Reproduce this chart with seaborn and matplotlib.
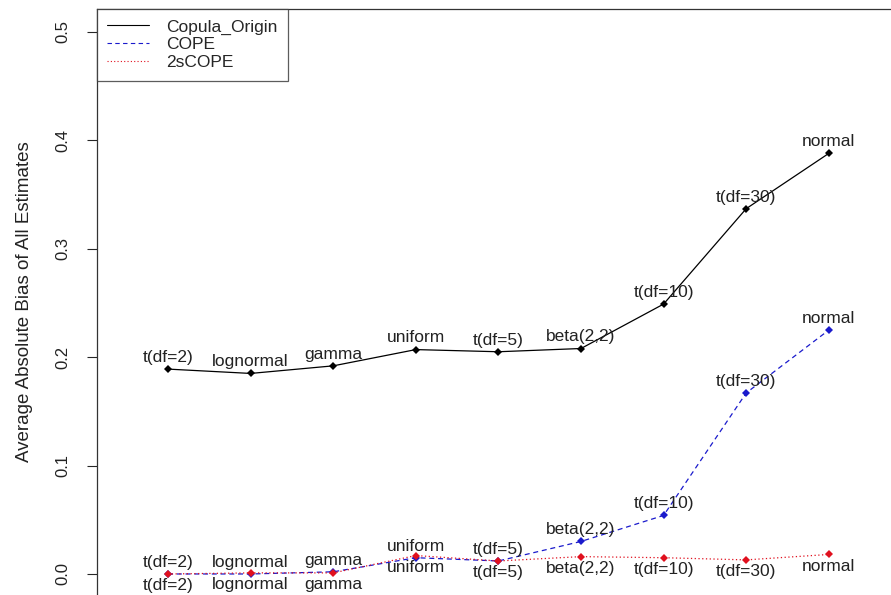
import numpy as np
import pandas as pd
import matplotlib
matplotlib.use('Agg')
import matplotlib.pyplot as plt
import seaborn as sns

# distributions (x order) and average absolute bias per method
dists = ['t(df=2)', 'lognormal', 'gamma', 'uniform', 't(df=5)',
         'beta(2,2)', 't(df=10)', 't(df=30)', 'normal']
copula_origin = [0.189, 0.185, 0.192, 0.207, 0.205, 0.208, 0.249, 0.337, 0.388]
cope = [0.000, 0.000, 0.002, 0.015, 0.012, 0.030, 0.054, 0.167, 0.225]
cope2s = [0.000, 0.001, 0.001, 0.017, 0.012, 0.016, 0.015, 0.013, 0.018]

sns.set_style('white')
plt.rcParams['font.family'] = ['Liberation Sans', 'DejaVu Sans']

W, H = 891, 595
fig = plt.figure(figsize=(W / 100, H / 100), dpi=100)
ax = fig.add_axes([97 / W, 0, (W - 97) / W, (595 - 9) / H])

xs = np.arange(1, len(dists) + 1)
df = pd.DataFrame({'x': np.tile(xs, 3),
                   'bias': copula_origin + cope + cope2s,
                   'method': ['Copula_Origin'] * 9 + ['COPE'] * 9 + ['2sCOPE'] * 9})

styles = {'Copula_Origin': ('black', '-'), 'COPE': ('#1a1acc', (0, (4, 3))),
          '2sCOPE': ('#e0101e', (0, (1, 2)))}
for m in ['Copula_Origin', 'COPE', '2sCOPE']:
    c, ls = styles[m]
    sub = df[df['method'] == m]
    sns.lineplot(data=sub, x='x', y='bias', ax=ax, color=c, linestyle=ls,
                 linewidth=0.9, label=m, marker='D', markersize=4.5,
                 markeredgewidth=0, markerfacecolor=c)

# point labels
lab_kw = dict(textcoords='offset points', ha='center', fontsize=12.5, color='#222222')
for x, lab, v in zip(xs, dists, copula_origin):
    ax.annotate(lab, (x, v), xytext=(0, 3), va='bottom', **lab_kw)
for x, lab, v in zip(xs, dists, cope):
    ax.annotate(lab, (x, v), xytext=(0, 3), va='bottom', **lab_kw)
for x, lab, v in zip(xs, dists, cope2s):
    ax.annotate(lab, (x, v), xytext=(0, -3), va='top', **lab_kw)

ax.set_xlim(0.14, 9.753)
ax.set_ylim(-0.0194, 0.5212)
ax.set_yticks([0.0, 0.1, 0.2, 0.3, 0.4, 0.5])
ax.set_yticklabels(['0.0', '0.1', '0.2', '0.3', '0.4', '0.5'], rotation=90,
                   va='center', fontsize=12, color='#222222')
ax.tick_params(axis='y', left=True, length=7, width=0.8, direction='out', pad=12)
ax.set_xticks([])
ax.set_xlabel('')
ax.set_ylabel('Average Absolute Bias of All Estimates', fontsize=13.5, color='#222222', labelpad=16)
ax.spines['right'].set_visible(False)
ax.spines['bottom'].set_visible(False)
for s in ['left', 'top']:
    ax.spines[s].set_color('#333333')
    ax.spines[s].set_linewidth(0.9)

leg = ax.legend(loc='upper left', frameon=True, fancybox=False, fontsize=12.5,
                borderaxespad=0, handlelength=2.4, markerscale=0, borderpad=0.6,
                labelspacing=0.15, handletextpad=1.0)
leg.get_frame().set_edgecolor('#333333')
leg.get_frame().set_linewidth(0.9)
for h in leg.get_lines():
    h.set_marker('')
    h.set_linewidth(0.8)

fig.savefig('out.png', dpi=100)
